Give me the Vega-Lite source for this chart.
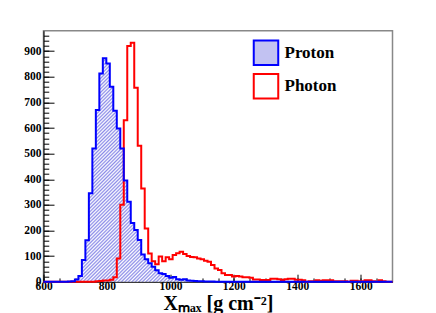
{
  "$schema": "https://vega.github.io/schema/vega-lite/v6.json",
  "width": 349,
  "height": 251,
  "autosize": "none",
  "padding": {"left": 43.5, "top": 30.7, "right": 43.5, "bottom": 31.3},
  "background": "white",
  "config": {
    "view": {"stroke": "#888888", "strokeWidth": 1.5},
    "axis": {"labelFont": "Liberation Serif", "labelFontWeight": "bold", "labelFontSize": 11.5, "labelColor": "black", "domainColor": "black", "tickColor": "black", "grid": false, "titleFont": "Liberation Serif", "titleFontWeight": "bold", "titleColor": "black"},
    "legend": {"labelFont": "Liberation Serif", "labelFontWeight": "bold", "labelFontSize": 17, "labelColor": "black"}
  },
  "data": {"values": [
    {"x":600,"Proton":0,"Photon":0},{"x":611,"Proton":0,"Photon":0},{"x":622,"Proton":0,"Photon":0},{"x":633,"Proton":0,"Photon":0},{"x":644,"Proton":0,"Photon":0},{"x":655,"Proton":0,"Photon":0},{"x":666,"Proton":0,"Photon":0},{"x":677,"Proton":1,"Photon":0},{"x":688,"Proton":2,"Photon":0},{"x":699,"Proton":9,"Photon":0},
    {"x":710,"Proton":22,"Photon":0},{"x":721,"Proton":85,"Photon":0},{"x":732,"Proton":162,"Photon":0},{"x":743,"Proton":345,"Photon":0},{"x":754,"Proton":520,"Photon":0},{"x":765,"Proton":670,"Photon":2},{"x":776,"Proton":813,"Photon":3},{"x":787,"Proton":872,"Photon":5},{"x":798,"Proton":852,"Photon":5},{"x":809,"Proton":761,"Photon":8},
    {"x":820,"Proton":667,"Photon":17},{"x":831,"Proton":598,"Photon":91},{"x":842,"Proton":520,"Photon":300},{"x":853,"Proton":395,"Photon":630},{"x":864,"Proton":312,"Photon":920},{"x":875,"Proton":229,"Photon":933},{"x":886,"Proton":202,"Photon":757},{"x":897,"Proton":163,"Photon":531},{"x":908,"Proton":106,"Photon":364},{"x":919,"Proton":88,"Photon":208},
    {"x":930,"Proton":72,"Photon":110},{"x":941,"Proton":58,"Photon":80},{"x":952,"Proton":45,"Photon":68},{"x":963,"Proton":33,"Photon":98},{"x":974,"Proton":30,"Photon":80},{"x":985,"Proton":22,"Photon":95},{"x":996,"Proton":15,"Photon":88},{"x":1007,"Proton":18,"Photon":104},{"x":1018,"Proton":10,"Photon":111},{"x":1029,"Proton":8,"Photon":117},
    {"x":1040,"Proton":10,"Photon":108},{"x":1051,"Proton":5,"Photon":100},{"x":1062,"Proton":4,"Photon":96},{"x":1073,"Proton":3,"Photon":95},{"x":1084,"Proton":2,"Photon":91},{"x":1095,"Proton":2,"Photon":88},{"x":1106,"Proton":1,"Photon":82},{"x":1117,"Proton":1,"Photon":78},{"x":1128,"Proton":1,"Photon":65},{"x":1139,"Proton":0,"Photon":52},
    {"x":1150,"Proton":0,"Photon":46},{"x":1161,"Proton":0,"Photon":33},{"x":1172,"Proton":0,"Photon":26},{"x":1183,"Proton":0,"Photon":26},{"x":1194,"Proton":0,"Photon":20},{"x":1205,"Proton":0,"Photon":22},{"x":1216,"Proton":0,"Photon":20},{"x":1227,"Proton":0,"Photon":17},{"x":1238,"Proton":0,"Photon":17},{"x":1249,"Proton":0,"Photon":15},
    {"x":1260,"Proton":0,"Photon":9},{"x":1271,"Proton":0,"Photon":9},{"x":1282,"Proton":0,"Photon":7},{"x":1293,"Proton":0,"Photon":7},{"x":1304,"Proton":0,"Photon":7},{"x":1315,"Proton":0,"Photon":12},{"x":1326,"Proton":0,"Photon":12},{"x":1337,"Proton":0,"Photon":10},{"x":1348,"Proton":0,"Photon":7},{"x":1359,"Proton":0,"Photon":10},
    {"x":1370,"Proton":0,"Photon":12},{"x":1381,"Proton":0,"Photon":12},{"x":1392,"Proton":0,"Photon":8},{"x":1403,"Proton":0,"Photon":8},{"x":1414,"Proton":0,"Photon":6},{"x":1425,"Proton":0,"Photon":0},{"x":1436,"Proton":0,"Photon":2},{"x":1447,"Proton":0,"Photon":2},{"x":1458,"Proton":0,"Photon":6},{"x":1469,"Proton":0,"Photon":4},
    {"x":1480,"Proton":0,"Photon":6},{"x":1491,"Proton":0,"Photon":6},{"x":1502,"Proton":0,"Photon":6},{"x":1513,"Proton":0,"Photon":2},{"x":1524,"Proton":0,"Photon":2},{"x":1535,"Proton":0,"Photon":2},{"x":1546,"Proton":0,"Photon":2},{"x":1557,"Proton":0,"Photon":0},{"x":1568,"Proton":0,"Photon":4},{"x":1579,"Proton":0,"Photon":4},
    {"x":1590,"Proton":0,"Photon":2},{"x":1601,"Proton":0,"Photon":2},{"x":1612,"Proton":0,"Photon":6},{"x":1623,"Proton":0,"Photon":6},{"x":1634,"Proton":0,"Photon":2},{"x":1645,"Proton":0,"Photon":0},{"x":1656,"Proton":0,"Photon":6},{"x":1667,"Proton":0,"Photon":2},{"x":1678,"Proton":0,"Photon":0},{"x":1689,"Proton":0,"Photon":0},
    {"x":1700,"Proton":0,"Photon":0}
  ]},
  "transform": [{"fold": ["Proton", "Photon"], "as": ["series", "count"]}],
  "resolve": {"axis": {"x": "independent", "y": "independent"}},
  "layer": [
    {
      "transform": [{"filter": "datum.series === 'Proton' && datum.x >= 666 && datum.x <= 1150"}],
      "mark": {"type": "area", "interpolate": "step-after", "fill": {"gradient": "linear", "x1": 0, "y1": 0, "x2": 0.78786, "y2": 1.14586, "stops": [
{"offset":0,"color":"#8c8ce8"},{"offset":0.00465,"color":"#ffffff"},{"offset":0.0093,"color":"#8c8ce8"},{"offset":0.01395,"color":"#ffffff"},{"offset":0.0186,"color":"#8c8ce8"},{"offset":0.02325,"color":"#ffffff"},{"offset":0.0279,"color":"#8c8ce8"},{"offset":0.03255,"color":"#ffffff"},{"offset":0.0372,"color":"#8c8ce8"},{"offset":0.04185,"color":"#ffffff"},
{"offset":0.0465,"color":"#8c8ce8"},{"offset":0.05115,"color":"#ffffff"},{"offset":0.0558,"color":"#8c8ce8"},{"offset":0.06045,"color":"#ffffff"},{"offset":0.0651,"color":"#8c8ce8"},{"offset":0.06975,"color":"#ffffff"},{"offset":0.0744,"color":"#8c8ce8"},{"offset":0.07905,"color":"#ffffff"},{"offset":0.0837,"color":"#8c8ce8"},{"offset":0.08835,"color":"#ffffff"},
{"offset":0.093,"color":"#8c8ce8"},{"offset":0.09765,"color":"#ffffff"},{"offset":0.1023,"color":"#8c8ce8"},{"offset":0.10695,"color":"#ffffff"},{"offset":0.1116,"color":"#8c8ce8"},{"offset":0.11625,"color":"#ffffff"},{"offset":0.1209,"color":"#8c8ce8"},{"offset":0.12555,"color":"#ffffff"},{"offset":0.1302,"color":"#8c8ce8"},{"offset":0.13485,"color":"#ffffff"},
{"offset":0.1395,"color":"#8c8ce8"},{"offset":0.14415,"color":"#ffffff"},{"offset":0.1488,"color":"#8c8ce8"},{"offset":0.15345,"color":"#ffffff"},{"offset":0.1581,"color":"#8c8ce8"},{"offset":0.16275,"color":"#ffffff"},{"offset":0.1674,"color":"#8c8ce8"},{"offset":0.17205,"color":"#ffffff"},{"offset":0.1767,"color":"#8c8ce8"},{"offset":0.18135,"color":"#ffffff"},
{"offset":0.186,"color":"#8c8ce8"},{"offset":0.19065,"color":"#ffffff"},{"offset":0.1953,"color":"#8c8ce8"},{"offset":0.19995,"color":"#ffffff"},{"offset":0.2046,"color":"#8c8ce8"},{"offset":0.20925,"color":"#ffffff"},{"offset":0.2139,"color":"#8c8ce8"},{"offset":0.21855,"color":"#ffffff"},{"offset":0.2232,"color":"#8c8ce8"},{"offset":0.22785,"color":"#ffffff"},
{"offset":0.2325,"color":"#8c8ce8"},{"offset":0.23715,"color":"#ffffff"},{"offset":0.2418,"color":"#8c8ce8"},{"offset":0.24645,"color":"#ffffff"},{"offset":0.2511,"color":"#8c8ce8"},{"offset":0.25575,"color":"#ffffff"},{"offset":0.2604,"color":"#8c8ce8"},{"offset":0.26505,"color":"#ffffff"},{"offset":0.2697,"color":"#8c8ce8"},{"offset":0.27435,"color":"#ffffff"},
{"offset":0.279,"color":"#8c8ce8"},{"offset":0.28365,"color":"#ffffff"},{"offset":0.2883,"color":"#8c8ce8"},{"offset":0.29295,"color":"#ffffff"},{"offset":0.2976,"color":"#8c8ce8"},{"offset":0.30225,"color":"#ffffff"},{"offset":0.3069,"color":"#8c8ce8"},{"offset":0.31155,"color":"#ffffff"},{"offset":0.3162,"color":"#8c8ce8"},{"offset":0.32085,"color":"#ffffff"},
{"offset":0.3255,"color":"#8c8ce8"},{"offset":0.33015,"color":"#ffffff"},{"offset":0.3348,"color":"#8c8ce8"},{"offset":0.33945,"color":"#ffffff"},{"offset":0.3441,"color":"#8c8ce8"},{"offset":0.34875,"color":"#ffffff"},{"offset":0.3534,"color":"#8c8ce8"},{"offset":0.35805,"color":"#ffffff"},{"offset":0.3627,"color":"#8c8ce8"},{"offset":0.36735,"color":"#ffffff"},
{"offset":0.372,"color":"#8c8ce8"},{"offset":0.37665,"color":"#ffffff"},{"offset":0.3813,"color":"#8c8ce8"},{"offset":0.38595,"color":"#ffffff"},{"offset":0.3906,"color":"#8c8ce8"},{"offset":0.39525,"color":"#ffffff"},{"offset":0.3999,"color":"#8c8ce8"},{"offset":0.40455,"color":"#ffffff"},{"offset":0.4092,"color":"#8c8ce8"},{"offset":0.41385,"color":"#ffffff"},
{"offset":0.4185,"color":"#8c8ce8"},{"offset":0.42315,"color":"#ffffff"},{"offset":0.4278,"color":"#8c8ce8"},{"offset":0.43245,"color":"#ffffff"},{"offset":0.4371,"color":"#8c8ce8"},{"offset":0.44175,"color":"#ffffff"},{"offset":0.4464,"color":"#8c8ce8"},{"offset":0.45105,"color":"#ffffff"},{"offset":0.4557,"color":"#8c8ce8"},{"offset":0.46035,"color":"#ffffff"},
{"offset":0.465,"color":"#8c8ce8"},{"offset":0.46965,"color":"#ffffff"},{"offset":0.4743,"color":"#8c8ce8"},{"offset":0.47895,"color":"#ffffff"},{"offset":0.4836,"color":"#8c8ce8"},{"offset":0.48825,"color":"#ffffff"},{"offset":0.4929,"color":"#8c8ce8"},{"offset":0.49755,"color":"#ffffff"},{"offset":0.5022,"color":"#8c8ce8"},{"offset":0.50685,"color":"#ffffff"},
{"offset":0.5115,"color":"#8c8ce8"},{"offset":0.51615,"color":"#ffffff"},{"offset":0.5208,"color":"#8c8ce8"},{"offset":0.52545,"color":"#ffffff"},{"offset":0.5301,"color":"#8c8ce8"},{"offset":0.53475,"color":"#ffffff"},{"offset":0.5394,"color":"#8c8ce8"},{"offset":0.54405,"color":"#ffffff"},{"offset":0.5487,"color":"#8c8ce8"},{"offset":0.55335,"color":"#ffffff"},
{"offset":0.558,"color":"#8c8ce8"},{"offset":0.56265,"color":"#ffffff"},{"offset":0.5673,"color":"#8c8ce8"},{"offset":0.57195,"color":"#ffffff"},{"offset":0.5766,"color":"#8c8ce8"},{"offset":0.58125,"color":"#ffffff"},{"offset":0.5859,"color":"#8c8ce8"},{"offset":0.59055,"color":"#ffffff"},{"offset":0.5952,"color":"#8c8ce8"},{"offset":0.59985,"color":"#ffffff"},
{"offset":0.6045,"color":"#8c8ce8"},{"offset":0.60915,"color":"#ffffff"},{"offset":0.6138,"color":"#8c8ce8"},{"offset":0.61845,"color":"#ffffff"},{"offset":0.6231,"color":"#8c8ce8"},{"offset":0.62775,"color":"#ffffff"},{"offset":0.6324,"color":"#8c8ce8"},{"offset":0.63705,"color":"#ffffff"},{"offset":0.6417,"color":"#8c8ce8"},{"offset":0.64635,"color":"#ffffff"},
{"offset":0.651,"color":"#8c8ce8"},{"offset":0.65565,"color":"#ffffff"},{"offset":0.6603,"color":"#8c8ce8"},{"offset":0.66495,"color":"#ffffff"},{"offset":0.6696,"color":"#8c8ce8"},{"offset":0.67425,"color":"#ffffff"},{"offset":0.6789,"color":"#8c8ce8"},{"offset":0.68355,"color":"#ffffff"},{"offset":0.6882,"color":"#8c8ce8"},{"offset":0.69285,"color":"#ffffff"},
{"offset":0.6975,"color":"#8c8ce8"},{"offset":0.70215,"color":"#ffffff"},{"offset":0.7068,"color":"#8c8ce8"},{"offset":0.71145,"color":"#ffffff"},{"offset":0.7161,"color":"#8c8ce8"},{"offset":0.72075,"color":"#ffffff"},{"offset":0.7254,"color":"#8c8ce8"},{"offset":0.73005,"color":"#ffffff"},{"offset":0.7347,"color":"#8c8ce8"},{"offset":0.73935,"color":"#ffffff"},
{"offset":0.744,"color":"#8c8ce8"},{"offset":0.74865,"color":"#ffffff"},{"offset":0.7533,"color":"#8c8ce8"},{"offset":0.75795,"color":"#ffffff"},{"offset":0.7626,"color":"#8c8ce8"},{"offset":0.76725,"color":"#ffffff"},{"offset":0.7719,"color":"#8c8ce8"},{"offset":0.77655,"color":"#ffffff"},{"offset":0.7812,"color":"#8c8ce8"},{"offset":0.78585,"color":"#ffffff"},
{"offset":0.7905,"color":"#8c8ce8"},{"offset":0.79515,"color":"#ffffff"},{"offset":0.7998,"color":"#8c8ce8"},{"offset":0.80445,"color":"#ffffff"},{"offset":0.8091,"color":"#8c8ce8"},{"offset":0.81375,"color":"#ffffff"},{"offset":0.8184,"color":"#8c8ce8"},{"offset":0.82305,"color":"#ffffff"},{"offset":0.8277,"color":"#8c8ce8"},{"offset":0.83235,"color":"#ffffff"},
{"offset":0.837,"color":"#8c8ce8"},{"offset":0.84165,"color":"#ffffff"},{"offset":0.8463,"color":"#8c8ce8"},{"offset":0.85095,"color":"#ffffff"},{"offset":0.8556,"color":"#8c8ce8"},{"offset":0.86025,"color":"#ffffff"},{"offset":0.8649,"color":"#8c8ce8"},{"offset":0.86955,"color":"#ffffff"},{"offset":0.8742,"color":"#8c8ce8"},{"offset":0.87885,"color":"#ffffff"},
{"offset":0.8835,"color":"#8c8ce8"},{"offset":0.88815,"color":"#ffffff"},{"offset":0.8928,"color":"#8c8ce8"},{"offset":0.89745,"color":"#ffffff"},{"offset":0.9021,"color":"#8c8ce8"},{"offset":0.90675,"color":"#ffffff"},{"offset":0.9114,"color":"#8c8ce8"},{"offset":0.91605,"color":"#ffffff"},{"offset":0.9207,"color":"#8c8ce8"},{"offset":0.92535,"color":"#ffffff"},
{"offset":0.93,"color":"#8c8ce8"},{"offset":0.93465,"color":"#ffffff"},{"offset":0.9393,"color":"#8c8ce8"},{"offset":0.94395,"color":"#ffffff"},{"offset":0.9486,"color":"#8c8ce8"},{"offset":0.95325,"color":"#ffffff"},{"offset":0.9579,"color":"#8c8ce8"},{"offset":0.96255,"color":"#ffffff"},{"offset":0.9672,"color":"#8c8ce8"},{"offset":0.97185,"color":"#ffffff"},
{"offset":0.9765,"color":"#8c8ce8"},{"offset":0.98115,"color":"#ffffff"},{"offset":0.9858,"color":"#8c8ce8"},{"offset":0.99045,"color":"#ffffff"},{"offset":0.9951,"color":"#8c8ce8"},{"offset":0.99975,"color":"#ffffff"}
      ]}},
      "encoding": {
        "x": {"field": "x", "type": "quantitative", "scale": {"domain": [600, 1700], "nice": false, "zero": false},
              "axis": {"orient": "bottom", "values": [600, 800, 1000, 1200, 1400, 1600], "format": "d", "tickSize": -7.5, "labelPadding": 6, "title": "Xₘₐₓ [g cm⁻²]", "titleFontSize": 20, "titlePadding": 2, "labelFlush": false}},
        "y": {"field": "count", "type": "quantitative", "scale": {"domain": [0, 980], "nice": false},
              "axis": {"orient": "left", "values": [0, 100, 200, 300, 400, 500, 600, 700, 800, 900], "tickSize": -10.5, "labelPadding": 13, "title": null}}
      }
    },
    {
      "transform": [{"filter": "datum.x < 0"}],
      "mark": {"type": "area"},
      "encoding": {
        "x": {"field": "x", "type": "quantitative", "axis": null},
        "y": {"field": "count", "type": "quantitative", "axis": null},
        "fill": {"field": "series", "type": "nominal", "scale": {"domain": ["Proton", "Photon"], "range": ["#c2c2f2", "white"]},
                 "legend": {"orient": "none", "legendX": 209, "legendY": 8.6, "title": null, "symbolType": "square", "symbolSize": 600, "symbolStrokeWidth": 2, "rowPadding": 0.5, "labelOffset": 5, "padding": 0}}
      }
    },
    {
      "transform": [{"filter": "datum.series === 'Photon'"}],
      "mark": {"type": "line", "interpolate": "step-after", "strokeWidth": 2, "strokeCap": "butt", "strokeJoin": "miter"},
      "encoding": {
        "x": {"field": "x", "type": "quantitative", "axis": {"orient": "bottom", "values": [600,650,700,750,800,850,900,950,1000,1050,1100,1150,1200,1250,1300,1350,1400,1450,1500,1550,1600,1650], "tickSize": -3.75, "labels": false, "domain": false, "title": null}},
        "y": {"field": "count", "type": "quantitative", "axis": {"orient": "left", "values": [0,20,40,60,80,100,120,140,160,180,200,220,240,260,280,300,320,340,360,380,400,420,440,460,480,500,520,540,560,580,600,620,640,660,680,700,720,740,760,780,800,820,840,860,880,900,920,940,960], "tickSize": -5.25, "labels": false, "domain": false, "title": null}},
        "stroke": {"field": "series", "type": "nominal", "scale": {"domain": ["Proton", "Photon"], "range": ["#0000ff", "#ff0000"]}}
      }
    },
    {
      "transform": [{"filter": "datum.series === 'Proton'"}],
      "mark": {"type": "line", "interpolate": "step-after", "strokeWidth": 2, "strokeCap": "butt", "strokeJoin": "miter"},
      "encoding": {
        "x": {"field": "x", "type": "quantitative", "axis": null},
        "y": {"field": "count", "type": "quantitative", "axis": null},
        "stroke": {"field": "series", "type": "nominal", "scale": {"domain": ["Proton", "Photon"], "range": ["#0000ff", "#ff0000"]}}
      }
    }
  ]
}
